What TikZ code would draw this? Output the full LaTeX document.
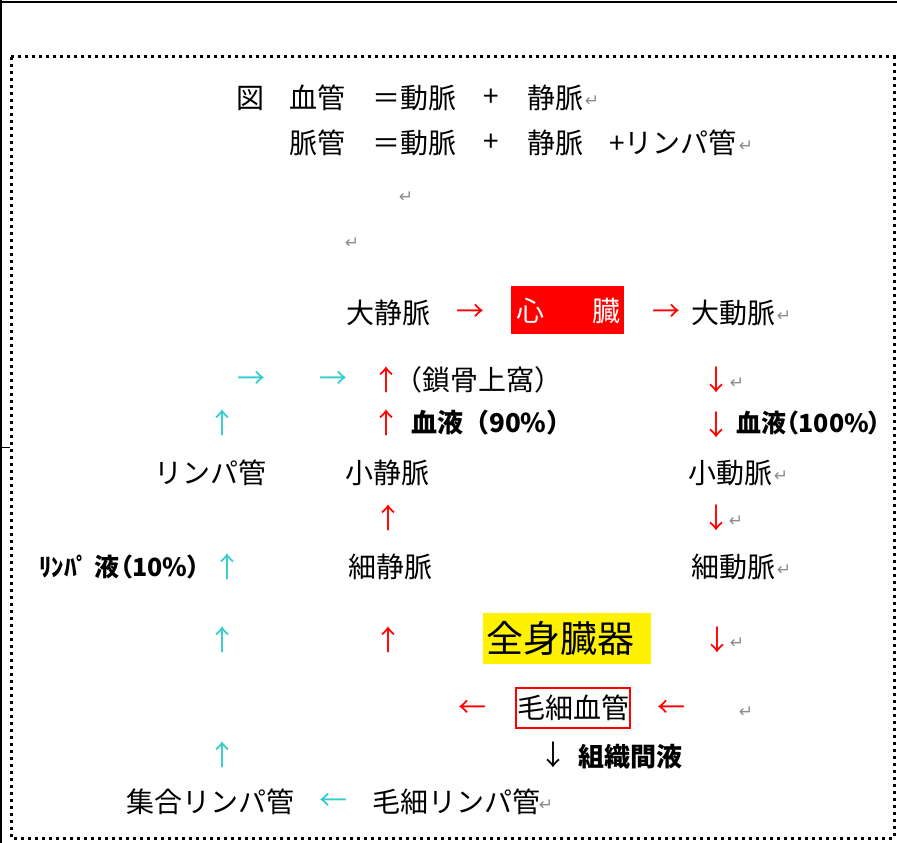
\documentclass[tikz,border=0pt]{standalone}
\usepackage{fontspec}
\setmainfont{Noto Sans CJK JP}
\newfontfamily\markfont{DejaVu Sans}
\definecolor{lymph}{RGB}{51,204,204}
\definecolor{pmark}{RGB}{140,140,140}
\tikzset{
  txt/.style={inner sep=0pt, font=\fontsize{28}{32}\selectfont},
  btxt/.style={inner sep=0pt, font=\fontsize{26}{30}\selectfont\bfseries},
  pbtxt/.style={inner sep=0pt, font=\fontsize{25}{30}\selectfont\bfseries\addfontfeatures{RawFeature=+palt}},
  ra/.style={txt, text=red},
  ca/.style={txt, text=lymph},
  ka/.style={txt, text=black},
  pm/.style={inner sep=0pt, text=pmark, font=\markfont\fontsize{17}{18}\selectfont},
  dotframe/.style={line width=3pt, dash pattern=on 3pt off 4pt},
}
\begin{document}
\begin{tikzpicture}[x=1pt,y=-1pt]
\useasboundingbox (0,0) rectangle (897,843);
% outer frame
\draw[line width=1.2pt] (0,2) -- (897,2);
\draw[line width=1.2pt] (1,0) -- (1,843);
\draw[line width=1pt] (0,447) -- (10,447);
\draw[dotframe] (11,57) rectangle (894,838);

% header line 1
\node[txt] (z) at (250,98) {図};
\node[txt] (h1a) at (317,98) {血管};
\node[txt] (h1b) at (414,98) {＝動脈};
\node[txt] (h1c) at (491,98) {+};
\node[txt] (h1d) at (555,98) {静脈};
\node[pm] (p1) at (592,101) {↵};
% header line 2
\node[txt] (h2a) at (317,143) {脈管};
\node[txt] (h2b) at (414,143) {＝動脈};
\node[txt] (h2c) at (491,143) {+};
\node[txt] (h2d) at (555,143) {静脈};
\node[txt, anchor=west] (h2e) at (609,143) {+リンパ管};
\node[pm] (p2) at (746,146) {↵};
\node[pm] (p3) at (406,197) {↵};
\node[pm] (p4) at (352,243) {↵};

% heart row
\node[txt] (dvein) at (388,313) {大静脈};
\node[ra] (a1) at (470,313) {→};
\node[fill=red, minimum width=113pt, minimum height=48pt, inner sep=0pt] (heart) at (567,310) {};
\node[txt, text=white] (h1) at (530,311) {心};
\node[txt, text=white] (h2) at (606,311) {臓};
\node[ra] (a2) at (666,313) {→};
\node[txt] (dart) at (733,313) {大動脈};
\node[pm] (p5) at (784,316) {↵};

% row 380
\node[ca] (c1) at (251,380) {→};
\node[ca] (c2) at (333,380) {→};
\node[ra] (u1) at (386,380) {↑};
\node[txt] (sakotsu) at (478,380) {（鎖骨上窩）};
\node[ra] (d1) at (716,380) {↓};
\node[pm] (p6) at (737,383) {↵};

% row 423
\node[ca] (c3) at (222,423) {↑};
\node[ra] (u2) at (386,423) {↑};
\node[btxt, anchor=west] (b90) at (411,423) {血液（90\%）};
\node[ra] (d2) at (716,425) {↓};
\node[pbtxt, anchor=west] (b100) at (736,423) {血液（100\%）};

% row 473
\node[txt] (lymph) at (210,473) {リンパ管};
\node[txt] (svein) at (387,473) {小静脈};
\node[txt] (sart) at (730,473) {小動脈};
\node[pm] (p7) at (781,476) {↵};

% row 518
\node[ra] (u3) at (388,518) {↑};
\node[ra] (d3) at (716,518) {↓};
\node[pm] (p8) at (736,521) {↵};

% row 567
\node[pbtxt, anchor=west] (l10) at (39,567) {ﾘﾝﾊﾟ 液（10\%）};
\node[ca] (c4) at (227,567) {↑};
\node[txt] (fvein) at (390,567) {細静脈};
\node[txt] (fart) at (733,567) {細動脈};
\node[pm] (p9) at (784,570) {↵};

% row 640
\node[ca] (c5) at (222,640) {↑};
\node[ra] (u4) at (388,640) {↑};
\node[fill=yellow, minimum width=168pt, minimum height=51pt, inner sep=0pt] (organ) at (567,638.5) {};
\node[inner sep=0pt, font=\fontsize{37}{40}\selectfont] (organt) at (560,638) {全身臓器};
\node[ra] (d4) at (717,640) {↓};
\node[pm] (p10) at (737,643) {↵};

% row 709
\node[ra] (l1) at (472,709) {←};
\node[draw=red, line width=1.3pt, minimum width=114pt, minimum height=40pt, inner sep=0pt] (cap) at (573,708) {};
\node[txt] (capt) at (573,708) {毛細血管};
\node[ra] (l2) at (671,709) {←};
\node[pm] (p11) at (746,712) {↵};

% row 757
\node[ca] (c6) at (222,755) {↑};
\node[ka] (d5) at (553,755) {↓};
\node[btxt] (tissue) at (630,757) {組織間液};

% row 802
\node[txt] (coll) at (210,802) {集合リンパ管};
\node[ca] (l3) at (333,802) {←};
\node[txt] (clym) at (456,802) {毛細リンパ管};
\node[pm] (p12) at (546,805) {↵};
\end{tikzpicture}
\end{document}
